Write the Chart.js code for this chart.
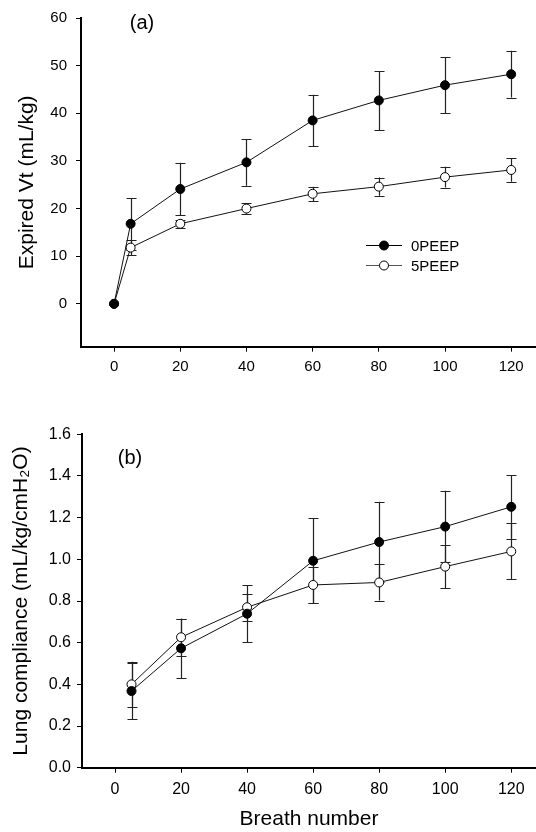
<!DOCTYPE html>
<html>
<head>
<meta charset="utf-8">
<script src="https://cdn.jsdelivr.net/npm/chart.js@4.4.1/dist/chart.umd.min.js"></script>
<style>
  html, body { margin: 0; padding: 0; background: #fff; }
  #wrap { position: relative; width: 536px; height: 832px; }
  #chart-a { position: absolute; left: 0; top: 0; }
  #chart-b { position: absolute; left: 0; top: 400px; }
</style>
</head>
<body>
<div id="wrap">
  <canvas id="chart-a" width="536" height="400"></canvas>
  <canvas id="chart-b" width="536" height="432"></canvas>
</div>
<script>
// data for panel (a) - expired Vt
const breathsA = [0, 5, 20, 40, 60, 80, 100, 120];
const vt0peep = [0, 16.8, 24.1, 29.7, 38.5, 42.7, 45.9, 48.2];
const vt0peepErr = [0, 5.4, 5.5, 4.9, 5.4, 6.2, 5.9, 4.9];
const vt5peep = [0, 11.8, 16.8, 20.0, 23.1, 24.6, 26.6, 28.1];
const vt5peepErr = [0, 1.6, 0.9, 1.1, 1.5, 1.9, 2.2, 2.5];

// data for panel (b) - lung compliance
const breathsB = [5, 20, 40, 60, 80, 100, 120];
const comp0peep = [0.368, 0.573, 0.739, 0.993, 1.083, 1.157, 1.252];
const comp0peepErr = [0.135, 0.143, 0.137, 0.203, 0.193, 0.172, 0.153];
const comp5peep = [0.400, 0.626, 0.770, 0.877, 0.889, 0.965, 1.038];
const comp5peepErr = [0.108, 0.088, 0.065, 0.087, 0.087, 0.103, 0.134];

// tick labels
const breathTicks = [0, 20, 40, 60, 80, 100, 120];
const vtTicks = [0, 10, 20, 30, 40, 50, 60];
const compTicks = [0.0, 0.2, 0.4, 0.6, 0.8, 1.0, 1.2, 1.4, 1.6];

const seriesNames = ['0PEEP', '5PEEP'];

Chart.defaults.font.family = '"Liberation Sans", Arial, Helvetica, sans-serif';
Chart.defaults.color = '#000';
Chart.defaults.animation = false;

const toPoints = (xs, ys) => xs.map((x, i) => ({ x: x, y: ys[i] }));

// error bars drawn behind the lines and markers
const errorBars = {
  id: 'errorBars',
  beforeDatasetsDraw(chart) {
    const ctx = chart.ctx;
    const yScale = chart.scales.y;
    chart.data.datasets.forEach((ds, i) => {
      const meta = chart.getDatasetMeta(i);
      meta.data.forEach((pt, j) => {
        const err = ds.errors[j];
        if (!err) return;
        const v = ds.data[j].y;
        const top = yScale.getPixelForValue(v + err);
        const bot = yScale.getPixelForValue(v - err);
        const x = Math.round(pt.x) + 0.5;
        ctx.save();
        ctx.strokeStyle = '#222';
        ctx.lineWidth = 1.2;
        ctx.beginPath();
        ctx.moveTo(x, top); ctx.lineTo(x, bot);
        ctx.moveTo(x - 5, Math.round(top) + 0.5); ctx.lineTo(x + 5, Math.round(top) + 0.5);
        ctx.moveTo(x - 5, Math.round(bot) + 0.5); ctx.lineTo(x + 5, Math.round(bot) + 0.5);
        ctx.stroke();
        ctx.restore();
      });
    });
  }
};

// panel letter
const panelLabel = (text, x, y) => ({
  id: 'panelLabel',
  afterDraw(chart) {
    const ctx = chart.ctx;
    ctx.save();
    ctx.font = '20px "Liberation Sans", Arial, sans-serif';
    ctx.fillStyle = '#000';
    ctx.textAlign = 'center';
    ctx.textBaseline = 'middle';
    ctx.fillText(text, x, y);
    ctx.restore();
  }
});

// legend with line through marker
const lineLegend = {
  id: 'lineLegend',
  afterDraw(chart) {
    const ctx = chart.ctx;
    ctx.save();
    chart.data.datasets.forEach((ds, i) => {
      const y = 245.5 + i * 20;
      ctx.strokeStyle = i === 0 ? '#000' : '#555';
      ctx.lineWidth = 1;
      ctx.beginPath();
      ctx.moveTo(366, y); ctx.lineTo(402, y);
      ctx.stroke();
      ctx.beginPath();
      ctx.arc(384, y, 4.5, 0, Math.PI * 2);
      ctx.fillStyle = ds.pointBackgroundColor;
      ctx.fill();
      ctx.strokeStyle = '#000';
      ctx.stroke();
      ctx.font = '15px "Liberation Sans", Arial, sans-serif';
      ctx.fillStyle = '#000';
      ctx.textAlign = 'left';
      ctx.textBaseline = 'middle';
      ctx.fillText(ds.label, 411, y + 1);
    });
    ctx.restore();
  }
};

function makeDataset(label, xs, ys, errs, fill) {
  return {
    label: label,
    data: toPoints(xs, ys),
    errors: errs,
    borderColor: '#111',
    borderWidth: 1,
    pointRadius: 4.5,
    pointHoverRadius: 4.5,
    pointBackgroundColor: fill,
    pointBorderColor: '#000',
    pointBorderWidth: 1,
    tension: 0,
    fill: false,
    clip: false
  };
}

function axisX(height, fontSize, pad, title) {
  return {
    type: 'linear',
    min: -10,
    max: 127.5,
    afterBuildTicks: s => { s.ticks = breathTicks.map(v => ({ value: v })); },
    afterFit: s => { s.height = height; s.paddingLeft = 0; s.paddingRight = 0; },
    grid: { display: true, drawOnChartArea: false, drawTicks: true, tickLength: 5, color: '#000', lineWidth: 1 },
    border: { display: true, color: '#000', width: 2 },
    ticks: { autoSkip: false, maxRotation: 0, padding: pad, font: { size: fontSize }, color: '#000' },
    title: title
  };
}

function axisY(min, max, ticks, width, fontSize, pad, fmt, title) {
  return {
    type: 'linear',
    min: min,
    max: max,
    afterBuildTicks: s => { s.ticks = ticks.map(v => ({ value: v })); },
    afterFit: s => { s.width = width; },
    grid: { display: true, drawOnChartArea: false, drawTicks: true, tickLength: 5, color: '#000', lineWidth: 1 },
    border: { display: true, color: '#000', width: 2 },
    ticks: { autoSkip: false, padding: pad, font: { size: fontSize }, color: '#000', callback: fmt },
    title: title
  };
}

//create chart (a)
new Chart('chart-a', {
  type: 'line',
  data: {
    datasets: [
      makeDataset(seriesNames[0], breathsA, vt0peep, vt0peepErr, '#000'),
      makeDataset(seriesNames[1], breathsA, vt5peep, vt5peepErr, '#fff')
    ]
  },
  options: {
    responsive: false,
    layout: { autoPadding: false, padding: { top: 14, right: 0, bottom: 0, left: 0 } },
    plugins: { legend: { display: false }, tooltip: { enabled: false } },
    scales: {
      x: axisX(53.3, 15, 6, { display: false }),
      y: axisY(-9, 60, vtTicks, 81, 15, 9, v => v.toFixed(0),
        { display: true, text: 'Expired Vt (mL/kg)', font: { size: 21 }, color: '#000', padding: { top: 15, bottom: 0 } })
    }
  },
  plugins: [errorBars, lineLegend, panelLabel('(a)', 142, 23)]
});

//create chart (b)
new Chart('chart-b', {
  type: 'line',
  data: {
    datasets: [
      makeDataset(seriesNames[0], breathsB, comp0peep, comp0peepErr, '#000'),
      makeDataset(seriesNames[1], breathsB, comp5peep, comp5peepErr, '#fff')
    ]
  },
  options: {
    responsive: false,
    layout: { autoPadding: false, padding: { top: 34.3, right: 0, bottom: 0, left: 0 } },
    plugins: { legend: { display: false }, tooltip: { enabled: false } },
    scales: {
      x: axisX(64.3, 16, 7, { display: true, text: 'Breath number', font: { size: 21 }, color: '#000', padding: { top: 0, bottom: 0 } }),
      y: axisY(0, 1.6, compTicks, 82, 16, 6, v => v.toFixed(1),
        { display: true, text: 'Lung compliance (mL/kg/cmH\u2082O)', font: { size: 21 }, color: '#000', padding: { top: 9, bottom: 0 } })
    }
  },
  plugins: [errorBars, panelLabel('(b)', 130, 58)]
});
</script>
</body>
</html>
